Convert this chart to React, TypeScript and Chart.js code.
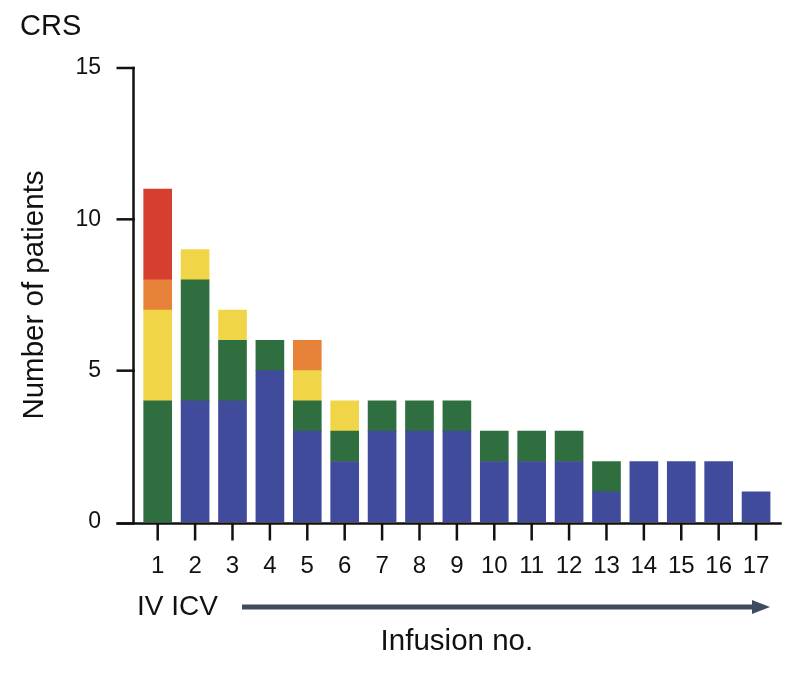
import React, { useEffect, useRef } from "react";
import { Chart, registerables } from "chart.js";

Chart.register(...registerables);

const infusions = ["1","2","3","4","5","6","7","8","9","10","11","12","13","14","15","16","17"];
const grade0 = [0, 4, 4, 5, 3, 2, 3, 3, 3, 2, 2, 2, 1, 2, 2, 2, 1];
const grade1 = [4, 4, 2, 1, 1, 1, 1, 1, 1, 1, 1, 1, 1, 0, 0, 0, 0];
const grade2 = [3, 1, 1, 0, 1, 1, 0, 0, 0, 0, 0, 0, 0, 0, 0, 0, 0];
const grade3 = [1, 0, 0, 0, 1, 0, 0, 0, 0, 0, 0, 0, 0, 0, 0, 0, 0];
const grade4 = [3, 0, 0, 0, 0, 0, 0, 0, 0, 0, 0, 0, 0, 0, 0, 0, 0];
const yTicks = [0, 5, 10, 15];

const FONT = "'Liberation Sans', Arial, Helvetica, sans-serif";
const INK = "#111111";

const customAxes = {
  id: "customAxes",
  afterDraw(chart: any) {
    const ctx = chart.ctx as CanvasRenderingContext2D;
    const xs = chart.scales.x;
    const ys = chart.scales.y;
    const area = chart.chartArea;
    const axisX = area.left - 5.5;
    const y0 = ys.getPixelForValue(0) + 1.5;
    const yTop = ys.getPixelForValue(yTicks[yTicks.length - 1]);
    ctx.save();
    ctx.strokeStyle = INK;
    ctx.lineWidth = 2.5;
    ctx.lineCap = "butt";
    // y axis line
    ctx.beginPath();
    ctx.moveTo(axisX, yTop - 1.25);
    ctx.lineTo(axisX, y0);
    ctx.stroke();
    // y ticks
    yTicks.forEach((v) => {
      const py = v === 0 ? y0 : ys.getPixelForValue(v);
      ctx.beginPath();
      ctx.moveTo(axisX - 17, py);
      ctx.lineTo(axisX + 1.25, py);
      ctx.stroke();
    });
    // x axis line
    ctx.beginPath();
    ctx.moveTo(axisX - 17, y0);
    ctx.lineTo(area.right + 7, y0);
    ctx.stroke();
    // x ticks
    infusions.forEach((_, i) => {
      const px = xs.getPixelForValue(i);
      ctx.beginPath();
      ctx.moveTo(px, y0);
      ctx.lineTo(px, y0 + 17);
      ctx.stroke();
    });
    // texts
    ctx.fillStyle = INK;
    ctx.textAlign = "left";
    ctx.textBaseline = "alphabetic";
    ctx.font = `29px ${FONT}`;
    ctx.fillText("CRS", 20, 35);
    ctx.font = `28px ${FONT}`;
    ctx.fillText("IV ICV", 137, 615);
    // arrow
    ctx.strokeStyle = "#414b5f";
    ctx.fillStyle = "#414b5f";
    ctx.lineWidth = 5;
    ctx.beginPath();
    ctx.moveTo(242, 607);
    ctx.lineTo(756, 607);
    ctx.stroke();
    ctx.beginPath();
    ctx.moveTo(752, 600);
    ctx.lineTo(770, 607);
    ctx.lineTo(752, 614);
    ctx.closePath();
    ctx.fill();
    ctx.restore();
  },
};

export default function App() {
  const ref = useRef<HTMLCanvasElement | null>(null);

  useEffect(() => {
    if (!ref.current) return;
    const colors = ["#414b9b", "#2f6f3f", "#f0d548", "#e8823a", "#d63e2f"];
    const series = [grade0, grade1, grade2, grade3, grade4];
    const chart = new Chart(ref.current, {
      type: "bar",
      data: {
        labels: infusions,
        datasets: series.map((d, i) => ({
          label: `Grade ${i}`,
          data: d.map((v) => (v === 0 ? null : v)),
          backgroundColor: colors[i],
          borderWidth: 0,
          barThickness: 28,
          stack: "s",
        })),
      },
      options: {
        responsive: false,
        animation: false,
        devicePixelRatio: 1,
        layout: { padding: { left: 0, right: 20, top: 68, bottom: 0 } },
        plugins: {
          legend: { display: false },
          tooltip: { enabled: false },
          title: { display: false },
        },
        scales: {
          x: {
            type: "category",
            stacked: true,
            offset: true,
            grid: { display: false, drawTicks: false },
            border: { display: false },
            ticks: {
              color: INK,
              font: { family: FONT, size: 24 },
              padding: 30,
              maxRotation: 0,
              autoSkip: false,
            },
            title: {
              display: true,
              text: "Infusion no.",
              color: INK,
              font: { family: FONT, size: 29.5 },
              padding: { top: 0, bottom: 24 },
            },
            afterFit: (s: any) => {
              s.height = 162;
            },
          },
          y: {
            type: "linear",
            stacked: true,
            min: 0,
            max: 15,
            grid: { display: false, drawTicks: false },
            border: { display: false },
            ticks: {
              stepSize: 5,
              color: INK,
              font: { family: FONT, size: 23 },
              padding: 38,
            },
            title: {
              display: true,
              text: "Number of patients",
              color: INK,
              font: { family: FONT, size: 29.5 },
              padding: { top: 17, bottom: 0 },
            },
            afterFit: (s: any) => {
              s.width = 139;
            },
          },
        },
      },
      plugins: [customAxes],
    });
    return () => chart.destroy();
  }, []);

  return (
    <div style={{ position: "absolute", left: 0, top: 0, width: 800, height: 684, background: "#fff" }}>
      <canvas ref={ref} width={800} height={684} style={{ display: "block", width: 800, height: 684 }} />
    </div>
  );
}
